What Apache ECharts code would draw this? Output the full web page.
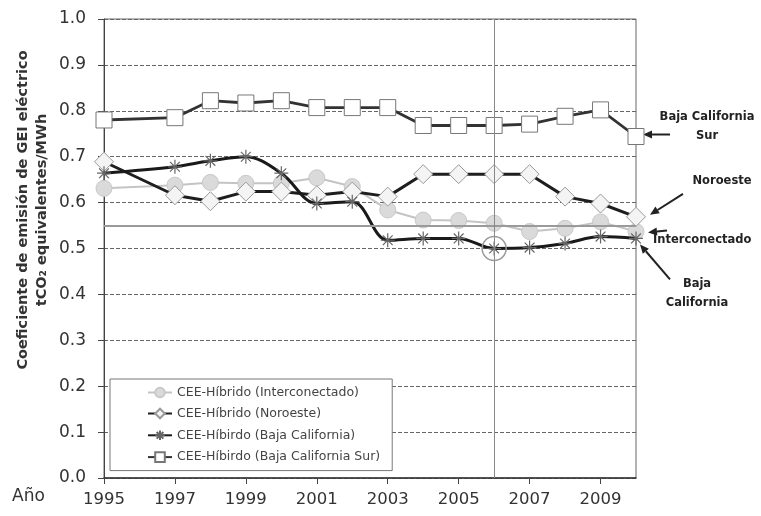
<!DOCTYPE html>
<html><head><meta charset="utf-8">
<script src="https://cdn.jsdelivr.net/npm/echarts@6/dist/echarts.min.js"></script>
<style>html,body{margin:0;padding:0;background:#fff}#c{width:761px;height:516px}</style>
</head><body><div id="c"></div>
<script>
const years = ['1995','1996','1997','1998','1999','2000','2001','2002','2003','2004','2005','2006','2007','2008','2009','2010'];
const interconectado = [0.631,null,0.638,0.644,0.642,0.642,0.654,0.635,0.584,0.562,0.561,0.555,0.537,0.544,0.558,0.537];
const noroeste       = [0.689,null,0.616,0.603,0.624,0.624,0.616,0.624,0.613,0.662,0.662,0.662,0.662,0.613,0.598,0.569];
const bajaCalifornia = [0.664,null,0.678,0.691,0.700,0.664,0.598,0.602,0.518,0.522,0.522,0.500,0.502,0.511,0.526,0.522];
const bajaCaliforniaSur = [0.780,null,0.785,0.822,0.817,0.822,0.807,0.807,0.807,0.768,0.768,0.768,0.771,0.788,0.802,0.744];
const seriesNames = ['CEE-Híbrido (Interconectado)','CEE-Híbrido (Noroeste)','CEE-Híbirdo (Baja California)','CEE-Híbirdo (Baja California Sur)'];
const regionLabels = ['Interconectado','Noroeste','Baja\nCalifornia','Baja California\nSur'];
const refLevel = 0.553;
const markYear = '2006';

const chart = echarts.init(document.getElementById('c'), null, {renderer:'canvas'});
const FONT = 'DejaVu Sans';
const asterisk = 'path://M0,-10L0,10M-10,0L10,0M-7,-7L7,7M-7,7L7,-7';

const option = {
  backgroundColor:'#fff',
  animation:false,
  grid:{left:104,right:125,top:19,bottom:38,show:true,borderColor:'#666',borderWidth:1,backgroundColor:'transparent'},
  legend:{
    left:110, top:379, orient:'vertical',
    padding:[7,12,7,37], itemGap:8, itemWidth:24, itemHeight:12,
    backgroundColor:'#fff', borderColor:'#777', borderWidth:1,
    textStyle:{fontFamily:FONT,fontSize:12.5,color:'#444'},
    data:seriesNames
  },
  xAxis:{
    type:'category', data:years, boundaryGap:false,
    axisLine:{lineStyle:{color:'#333',width:1.5}},
    axisTick:{show:true,interval:1,length:6,lineStyle:{color:'#444'}},
    axisLabel:{interval:1,margin:13,fontFamily:FONT,fontSize:16.5,color:'#333'},
    splitLine:{show:false}
  },
  yAxis:{
    type:'value', min:0, max:1, interval:0.1,
    axisLine:{show:true,lineStyle:{color:'#444',width:1}},
    axisTick:{show:true,length:6,lineStyle:{color:'#444'}},
    axisLabel:{margin:18,fontFamily:FONT,fontSize:17,color:'#333',formatter:v=>v.toFixed(1)},
    splitLine:{show:true,lineStyle:{color:'#666',width:1,type:[4,2]}}
  },
  graphic:[
    {type:'text',left:12,top:488,style:{text:'Año',fontFamily:FONT,fontSize:17,fill:'#333'}},
    {type:'text',x:33,y:210,rotation:Math.PI/2,style:{text:'Coeficiente de emisión de GEI eléctrico\ntCO₂ equivalentes/MWh',
      fontFamily:FONT,fontWeight:'bold',fontSize:14.5,fill:'#333',align:'center',verticalAlign:'middle',lineHeight:19}}
  ],
  series:[
    {name:seriesNames[0],type:'line',data:interconectado,connectNulls:true,z:2,
      symbol:'circle',symbolSize:16,
      lineStyle:{color:'#c4c4c4',width:2},
      itemStyle:{color:'#dadada',borderColor:'#c8c8c8',borderWidth:1},
      markLine:{silent:true,symbol:'none',label:{show:false},
        data:[{yAxis:refLevel,lineStyle:{color:'#9a9a9a',width:2,type:'solid'}},
              {xAxis:markYear,lineStyle:{color:'#888',width:1,type:'solid'}}]}
    },
    {name:seriesNames[1],type:'line',data:noroeste,connectNulls:true,z:3,
      symbol:'diamond',symbolSize:19,
      lineStyle:{color:'#1e1e1e',width:3},
      itemStyle:{color:'#f4f4f4',borderColor:'#999',borderWidth:1}
    },
    {name:seriesNames[2],type:'line',data:bajaCalifornia,connectNulls:true,z:4,smooth:0.35,
      symbol:asterisk,symbolSize:14,
      lineStyle:{color:'#1a1a1a',width:3},
      itemStyle:{color:'none',borderColor:'#666',borderWidth:1.2},
      markPoint:{silent:true,symbol:'circle',symbolSize:24,label:{show:false},
        itemStyle:{color:'rgba(0,0,0,0)',borderColor:'#999',borderWidth:1.5},
        data:[{coord:[markYear,bajaCalifornia[years.indexOf(markYear)]]}]}
    },
    {name:seriesNames[3],type:'line',data:bajaCaliforniaSur,connectNulls:true,z:3,
      symbol:'rect',symbolSize:16,
      lineStyle:{color:'#333',width:2.8},
      itemStyle:{color:'#fff',borderColor:'#777',borderWidth:1}
    }
  ]
};
chart.setOption(option);

// annotations anchored to the last data point of each series
function arrow(tail, tip){
  const dx=tip[0]-tail[0], dy=tip[1]-tail[1], L=Math.hypot(dx,dy), ux=dx/L, uy=dy/L;
  const hl=9, hw=4;
  const bx=tip[0]-ux*hl, by=tip[1]-uy*hl;
  return [
    {type:'line',shape:{x1:tail[0],y1:tail[1],x2:bx,y2:by},style:{stroke:'#222',lineWidth:2}},
    {type:'polygon',shape:{points:[tip,[bx-uy*hw,by+ux*hw],[bx+uy*hw,by-ux*hw]]},style:{fill:'#222'}}
  ];
}
const last = years.length-1;
const pIC = chart.convertToPixel({seriesIndex:0},[last,interconectado[last]]);
const pNO = chart.convertToPixel({seriesIndex:1},[last,noroeste[last]]);
const pBC = chart.convertToPixel({seriesIndex:2},[last,bajaCalifornia[last]]);
const pBS = chart.convertToPixel({seriesIndex:3},[last,bajaCaliforniaSur[last]]);
const add = (p,o)=>[p[0]+o[0],p[1]+o[1]];
const lbl = (t,x,y,align)=>({type:'text',x:x,y:y,style:{text:t,fontFamily:FONT,fontWeight:'bold',fontSize:11.5,fill:'#222',align:align||'center',verticalAlign:'middle',lineHeight:19}});
const g = [].concat(
  arrow(add(pBS,[34,-2]),add(pBS,[7,-2])),
  arrow(add(pNO,[47,-23]),add(pNO,[14,-2])),
  arrow(add(pIC,[31,-1]),add(pIC,[12,1])),
  arrow(add(pBC,[34,41]),add(pBC,[4,6])),
  [lbl(regionLabels[3],707,127),
   lbl(regionLabels[1],722,181),
   lbl(regionLabels[0],653,240,'left'),
   lbl(regionLabels[2],697,294)]
);
chart.setOption({graphic:option.graphic.concat(g)});
</script></body></html>
